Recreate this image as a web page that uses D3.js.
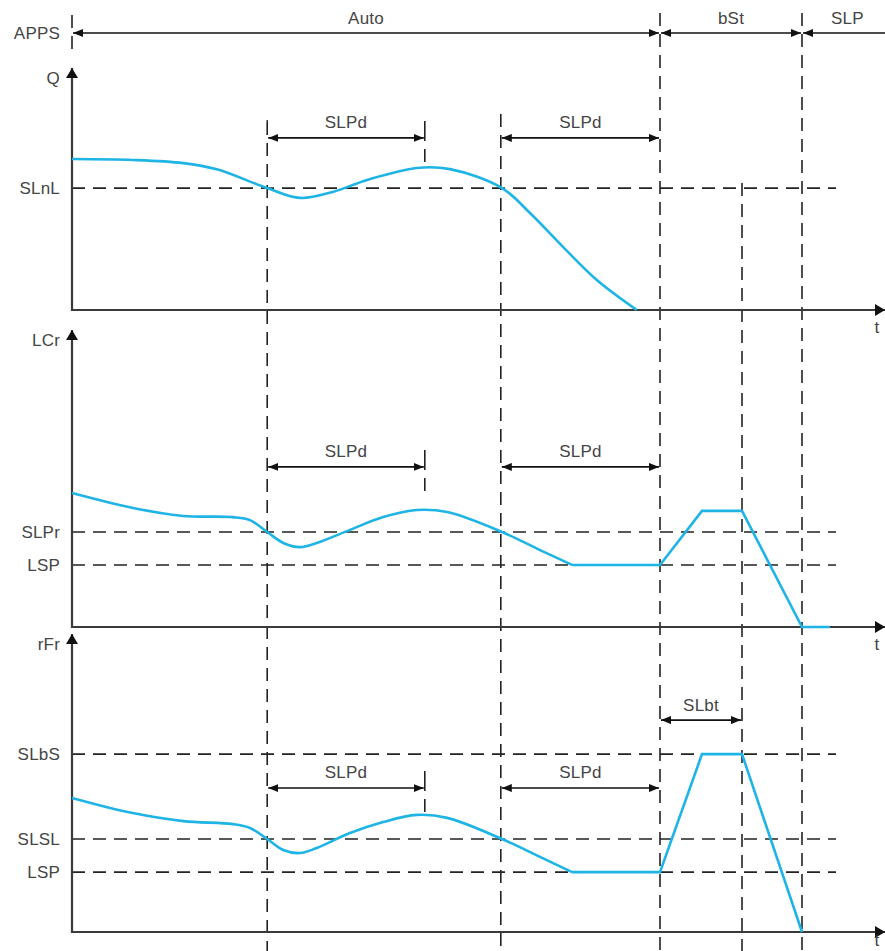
<!DOCTYPE html>
<html><head><meta charset="utf-8">
<script src="https://cdn.jsdelivr.net/npm/d3@7"></script>
<style>
html,body{margin:0;padding:0;background:#fff;}
svg{display:block;font-family:"Liberation Sans",Arial,sans-serif;}
</style></head>
<body>
<svg id="chart" width="885" height="951"></svg>
<script>
// ---------- DATA ----------
const eventTimes = [24.4, 53.6, 73.5, 83.75, 91.25];
const modeLabels = ["Auto", "bSt", "SLP"];
const modeBounds = [0, 73.5, 91.25, 101.6];
const axisLabels = ["Q", "LCr", "rFr"];

const qThresholdLabels = ["SLnL"];
const qThresholdValues = [50.8];
const lcrThresholdLabels = ["SLPr", "LSP"];
const lcrThresholdValues = [32, 20.9];
const rfrThresholdLabels = ["SLbS", "SLSL", "LSP"];
const rfrThresholdValues = [59.7, 31.2, 20.1];

const qTime  = [0, 7.6, 13.9, 18.1, 24.4, 28.5, 32.6, 36.9, 43.1, 47.25, 53.75, 57.25, 61.4, 65.6, 70.6];
const qValue = [62.9, 62.5, 61.2, 58.6, 50.8, 46.7, 49.2, 54.2, 59.2, 58.7, 50.8, 40.4, 26.2, 12.5, 0];

const lcrSmoothTime  = [0, 7.6, 13.9, 20.1, 22.25, 24.4, 26.4, 28.5, 30.6, 34.75, 38.9, 43.1, 46.9, 53.75, 58.5, 62.5];
const lcrSmoothValue = [45.1, 40.1, 37.4, 37.0, 36.0, 32.0, 28.3, 26.9, 28.3, 32.7, 37.0, 39.4, 38.7, 32.0, 25.9, 20.9];
const lcrRampTime  = [62.5, 73.5, 78.75, 83.75, 91.25, 94.75];
const lcrRampValue = [20.9, 20.9, 39.1, 39.1, 0, 0];

const rfrSmoothTime  = [0, 7.6, 13.9, 20.1, 22.25, 24.4, 26.4, 28.5, 30.6, 34.75, 38.9, 43.1, 46.9, 53.75, 58.5, 62.5];
const rfrSmoothValue = [45.0, 39.9, 37.2, 36.2, 34.9, 31.2, 27.5, 26.5, 28.2, 33.2, 36.9, 39.3, 38.3, 31.2, 25.2, 20.1];
const rfrRampTime  = [62.5, 73.5, 78.75, 83.75, 91.25];
const rfrRampValue = [20.1, 20.1, 59.7, 59.7, 0];

const slpdStart = [24.4, 53.6];
const slpdEnd = [44.1, 73.5];
const slpdLevels = [71.7, 53.9, 48.3];
const slbtStart = 73.5, slbtEnd = 83.75, slbtLevel = 71.1;

// ---------- LAYOUT ----------
const svg = d3.select("#chart");
const x = d3.scaleLinear().domain([0, 100]).range([72, 872]);
const panelBottom = [310, 627, 932];
const panelTop = [68, 330, 634];
const ys = [
  d3.scaleLinear().domain([0, 100]).range([310, 70]),
  d3.scaleLinear().domain([0, 100]).range([627, 330]),
  d3.scaleLinear().domain([0, 100]).range([932, 634])
];
const textCol = "#454545", lineCol = "#3a3a3a", dashCol = "#222", curveCol = "#1eb4e6";
const dash = "13,8";
const fs = 17;
const ls = "0.2px";

const defs = svg.append("defs");
defs.append("marker").attr("id", "arr").attr("viewBox", "0 0 10 8")
  .attr("refX", 10).attr("refY", 4).attr("markerWidth", 10).attr("markerHeight", 8)
  .attr("markerUnits", "userSpaceOnUse").attr("orient", "auto-start-reverse")
  .append("path").attr("d", "M0,0 L10,4 L0,8 Z").attr("fill", "#111");
defs.append("marker").attr("id", "arrBig").attr("viewBox", "0 0 10 12")
  .attr("refX", 10).attr("refY", 6).attr("markerWidth", 10).attr("markerHeight", 12)
  .attr("markerUnits", "userSpaceOnUse").attr("orient", "auto")
  .append("path").attr("d", "M0,0 L10,6 L0,12 Z").attr("fill", "#111");

function label(g, tx, ty, txt, anchor) {
  return g.append("text").attr("x", tx).attr("y", ty).attr("text-anchor", anchor || "middle")
    .attr("font-size", fs).attr("letter-spacing", ls).attr("fill", textCol).text(txt);
}

// ---------- EVENT VERTICAL LINES ----------
const eventTop = [122, 114, 13, 183, 13];
svg.append("g").selectAll("line").data(eventTimes).join("line")
  .attr("x1", d => x(d)).attr("x2", d => x(d))
  .attr("y1", (d, i) => eventTop[i]).attr("y2", 951)
  .attr("stroke", dashCol).attr("stroke-width", 1.6).attr("stroke-dasharray", dash);
svg.append("circle").attr("cx", x(eventTimes[0])).attr("cy", 121).attr("r", 0.9).attr("fill", dashCol);

svg.append("line").attr("x1", x(0)).attr("x2", x(0)).attr("y1", 15).attr("y2", 57)
  .attr("stroke", dashCol).attr("stroke-width", 1.6).attr("stroke-dasharray", dash);

// ---------- MODE ARROWS (APPS) ----------
const modeY = 33;
const gm = svg.append("g");
modeLabels.forEach((lab, i) => {
  const a = modeBounds[i], b = modeBounds[i + 1];
  const ln = gm.append("line")
    .attr("x1", x(a) + 1).attr("x2", x(b) - (i < 2 ? 1 : -5))
    .attr("y1", modeY).attr("y2", modeY)
    .attr("stroke", "#111").attr("stroke-width", 1.6)
    .attr("marker-start", "url(#arr)");
  if (i < 2) ln.attr("marker-end", "url(#arr)");
  label(gm, (x(a) + Math.min(x(b), 885)) / 2 + (i === 2 ? 4 : 0), 24, lab);
});
label(svg, 60, 39, "APPS", "end");

// ---------- PANELS ----------
const thrLabels = [qThresholdLabels, lcrThresholdLabels, rfrThresholdLabels];
const thrValues = [qThresholdValues, lcrThresholdValues, rfrThresholdValues];
const smoothSeries = [
  [qTime, qValue],
  [lcrSmoothTime, lcrSmoothValue],
  [rfrSmoothTime, rfrSmoothValue]
];
const rampSeries = [null, [lcrRampTime, lcrRampValue], [rfrRampTime, rfrRampValue]];

ys.forEach((y, p) => {
  const g = svg.append("g");
  g.selectAll("line.thr").data(thrValues[p]).join("line").attr("class", "thr")
    .attr("x1", x(0)).attr("x2", x(95.5))
    .attr("y1", d => y(d)).attr("y2", d => y(d))
    .attr("stroke", dashCol).attr("stroke-width", 1.6).attr("stroke-dasharray", dash);
  const ax = d3.axisLeft(y).tickValues(thrValues[p])
    .tickFormat((d, i) => thrLabels[p][i]).tickSize(0).tickPadding(12);
  const ag = g.append("g").attr("transform", `translate(${x(0)},0)`).call(ax);
  ag.select(".domain").remove();
  ag.selectAll("text").attr("font-size", fs).attr("fill", textCol).attr("letter-spacing", ls)
    .attr("font-family", "Liberation Sans, Arial, sans-serif");

  g.append("line").attr("x1", x(0)).attr("x2", x(0))
    .attr("y1", panelBottom[p] + 1).attr("y2", panelTop[p])
    .attr("stroke", lineCol).attr("stroke-width", 2.2).attr("marker-end", "url(#arrBig)");
  g.append("line").attr("x1", x(0) - 1).attr("x2", 885)
    .attr("y1", panelBottom[p]).attr("y2", panelBottom[p])
    .attr("stroke", lineCol).attr("stroke-width", 2.2).attr("marker-end", "url(#arrBig)");
  label(g, 60, panelTop[p] + 16, axisLabels[p], "end");
  label(g, 877, Math.min(panelBottom[p] + 23, 946), "t");

  const [ts, vs] = smoothSeries[p];
  const smooth = d3.line().x(d => x(d[0])).y(d => y(d[1])).curve(d3.curveCatmullRom.alpha(0.5));
  g.append("path").attr("d", smooth(d3.zip(ts, vs)))
    .attr("fill", "none").attr("stroke", curveCol).attr("stroke-width", 2.6);
  if (rampSeries[p]) {
    const [rt, rv] = rampSeries[p];
    const lin = d3.line().x(d => x(d[0])).y(d => y(d[1]));
    g.append("path").attr("d", lin(d3.zip(rt, rv)))
      .attr("fill", "none").attr("stroke", curveCol).attr("stroke-width", 2.6);
  }

  const ly = y(slpdLevels[p]);
  slpdStart.forEach((s, i) => {
    const e = slpdEnd[i];
    g.append("line").attr("x1", x(s) + 1).attr("x2", x(e) - 1)
      .attr("y1", ly).attr("y2", ly)
      .attr("stroke", "#111").attr("stroke-width", 1.6)
      .attr("marker-start", "url(#arr)").attr("marker-end", "url(#arr)");
    label(g, (x(s) + x(e)) / 2, ly - 10, "SLPd");
    if (i === 0) {
      g.append("line").attr("x1", x(e)).attr("x2", x(e))
        .attr("y1", ly - 17).attr("y2", ly + 24)
        .attr("stroke", dashCol).attr("stroke-width", 1.6).attr("stroke-dasharray", "20,8");
    }
  });
  if (p === 2) {
    const sy = y(slbtLevel);
    g.append("line").attr("x1", x(slbtStart) + 1).attr("x2", x(slbtEnd) - 1)
      .attr("y1", sy).attr("y2", sy)
      .attr("stroke", "#111").attr("stroke-width", 1.6)
      .attr("marker-start", "url(#arr)").attr("marker-end", "url(#arr)");
    label(g, (x(slbtStart) + x(slbtEnd)) / 2, sy - 9, "SLbt");
  }
});
</script>
</body></html>
